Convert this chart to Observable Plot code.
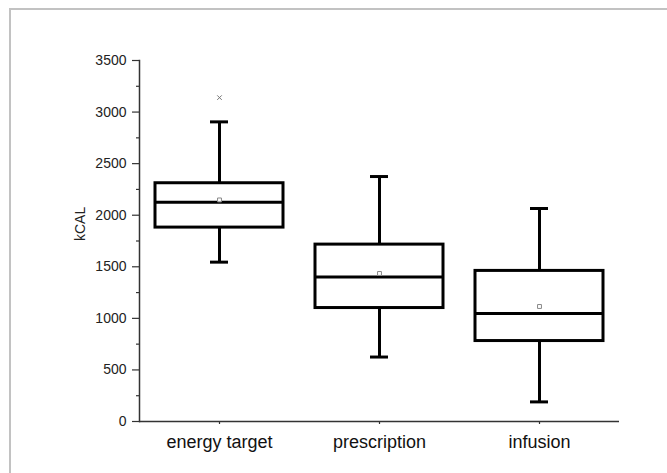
<!DOCTYPE html>
<html>
<head>
<meta charset="utf-8">
<script src="https://cdn.jsdelivr.net/npm/d3@7"></script>
<script src="https://cdn.jsdelivr.net/npm/@observablehq/plot@0.6"></script>
<style>
  html, body { margin: 0; padding: 0; background: #fff; overflow: hidden; }
  #wrap { position: relative; width: 667px; height: 473px; overflow: hidden; }
  #bl { position: absolute; left: 9px; top: 8px; width: 2px; height: 465px; background: #c2c2c2; }
  #bt { position: absolute; left: 9px; top: 8px; width: 658px; height: 2px; background: #c2c2c2; }
  #chart { position: absolute; left: 0; top: 0; }
  #chart svg { background: transparent !important; }
</style>
</head>
<body>
<div id="wrap"><div id="bl"></div><div id="bt"></div><div id="chart"></div></div>
<script>
const categories = ["energy target", "prescription", "infusion"];
const whiskerLow = [1545, 625, 190];
const q1 = [1880, 1100, 780];
const median = [2125, 1400, 1048];
const q3 = [2310, 1715, 1460];
const whiskerHigh = [2905, 2375, 2065];
const mean = [2148, 1435, 1115];
const outlierCategory = ["energy target"];
const outlierValue = [3140];
const majorTicks = [0, 500, 1000, 1500, 2000, 2500, 3000, 3500];
const minorTicks = [250, 750, 1250, 1750, 2250, 2750, 3250];
const yLabel = "kCAL";

const boxes = categories.map((c, i) => ({
  cat: c, lo: whiskerLow[i], q1: q1[i], med: median[i], q3: q3[i], hi: whiskerHigh[i], mean: mean[i]
}));
const outliers = outlierCategory.map((c, i) => ({cat: c, v: outlierValue[i]}));

const axisColor = "#333";
const font = "'Liberation Sans', Arial, sans-serif";

const chart = Plot.plot({
  width: 667,
  height: 473,
  marginLeft: 139,
  marginRight: 48,
  marginTop: 60,
  marginBottom: 52,
  style: {fontFamily: font, background: "transparent", color: "#222"},
  x: {domain: categories, padding: 0, label: null},
  y: {domain: [0, 3500], label: null},
  marks: [
    Plot.frame({anchor: "left", stroke: axisColor, strokeWidth: 1.5}),
    Plot.ruleY([0], {stroke: axisColor, strokeWidth: 1.5}),
    Plot.axisY(majorTicks, {tickSize: 7, tickPadding: 6, fontSize: 14, stroke: axisColor, strokeWidth: 1.2, fill: "#222",
      label: null, tickFormat: d => String(d)}),
    Plot.axisY(minorTicks, {tickSize: 3, stroke: axisColor, strokeWidth: 1.2, tickFormat: () => "", label: null}),
    Plot.text([yLabel], {frameAnchor: "left", dx: -59, rotate: -90, fontSize: 14, fill: "#222", text: d => d}),
    Plot.axisX({tickSize: 3, tickPadding: 11, fontSize: 18, stroke: axisColor, strokeWidth: 1.2, fill: "#111", label: null}),
    Plot.ruleX(boxes, {x: "cat", y1: "q3", y2: "hi", stroke: "#000", strokeWidth: 3}),
    Plot.ruleX(boxes, {x: "cat", y1: "lo", y2: "q1", stroke: "#000", strokeWidth: 3}),
    Plot.tickY(boxes, {x: "cat", y: "hi", stroke: "#000", strokeWidth: 3, insetLeft: 71, insetRight: 71}),
    Plot.tickY(boxes, {x: "cat", y: "lo", stroke: "#000", strokeWidth: 3, insetLeft: 71, insetRight: 71}),
    Plot.barY(boxes, {x: "cat", y1: "q1", y2: "q3", fill: "none", stroke: "#000", strokeWidth: 3, insetLeft: 16, insetRight: 16}),
    Plot.tickY(boxes, {x: "cat", y: "med", stroke: "#000", strokeWidth: 3, insetLeft: 16, insetRight: 16}),
    Plot.dot(boxes, {x: "cat", y: "mean", symbol: "square", r: 2.2, stroke: "#888", strokeWidth: 1, fill: "#fff"}),
    Plot.dot(outliers, {x: "cat", y: "v", symbol: "times", r: 2.2, stroke: "#777", strokeWidth: 1})
  ]
});
document.getElementById("chart").appendChild(chart);
</script>
</body>
</html>
